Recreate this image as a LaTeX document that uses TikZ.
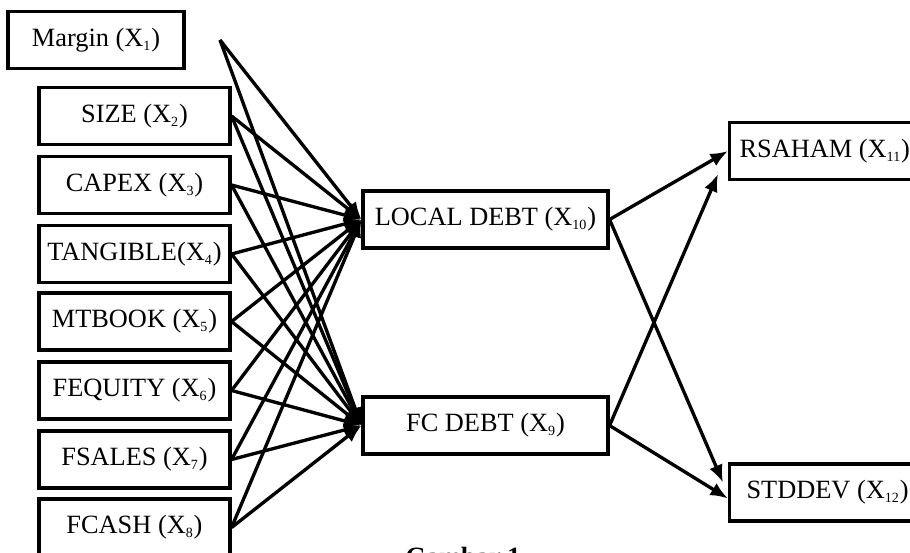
\documentclass[tikz,border=0pt]{standalone}
\usepackage{fontspec}
\setmainfont{Liberation Serif}
\usetikzlibrary{calc,positioning,arrows.meta}
\tikzset{
    box/.style={draw, line width=1.8pt, minimum width=3.82cm, minimum height=1.14cm,
                inner sep=2pt, font=\fontsize{15}{18}\selectfont},
    arr/.style={line width=1.9pt, -{Latex[length=10pt,width=8pt]}}
}
\newcommand{\sbs}[1]{\textsubscript{\footnotesize #1}}

\begin{document}
\begin{tikzpicture}[x=0.02cm,y=-0.02cm]
        \useasboundingbox (0,0) rectangle (910,552);

        % input variables
        \node[box, minimum width=3.52cm] (margin) at (96,40) {Margin (X\sbs{1})};
        \coordinate (mstart) at (220,40);
        \foreach \name/\txt/\y in {size/{SIZE (X\sbs{2})}/116,
                                   capex/{CAPEX (X\sbs{3})}/185,
                                   tangible/{TANGIBLE(X\sbs{4})}/254,
                                   mtbook/{MTBOOK (X\sbs{5})}/321.5,
                                   fequity/{FEQUITY (X\sbs{6})}/390.5,
                                   fsales/{FSALES (X\sbs{7})}/459.5,
                                   fcash/{FCASH (X\sbs{8})}/527.5}{
            \node[box] (\name) at (134.5,\y) {\txt};
        }

        % debt
        \node[box, minimum width=4.9cm] (local) at (485.5,219.5) {LOCAL DEBT (X\sbs{10})};
        \node[box, minimum width=4.9cm] (fc) at (485.5,425.5) {FC DEBT (X\sbs{9})};

        % outcomes
        \node[box, minimum width=0pt, inner xsep=0.2cm, anchor=west] (rsaham) at (728,151) {RSAHAM (X\sbs{11})};
        \node[box, minimum width=0pt, inner xsep=0.34cm, anchor=west] (stddev) at (728,492.5) {STDDEV (X\sbs{12})};

        \foreach \s in {mstart,size,capex,tangible,mtbook,fequity,fsales,fcash}{
            \draw[arr] (\s.east) -- (local.west);
            \draw[arr] (\s.east) -- (fc.west);
        }

        \draw[arr] (local.east) -- (rsaham.west);
        \draw[arr] (local.east) -- ($(stddev.west)+(-5,-10)$);
        \draw[arr] (fc.east) -- ($(rsaham.south west)+(-10,-7)$);
        \draw[arr] (fc.east) -- ($(stddev.west)+(0,6)$);

        \node[anchor=north, inner sep=0pt, font=\bfseries\fontsize{15}{18}\selectfont] (caption) at (463,547) {Gambar 1};
    \end{tikzpicture}
\end{document}
